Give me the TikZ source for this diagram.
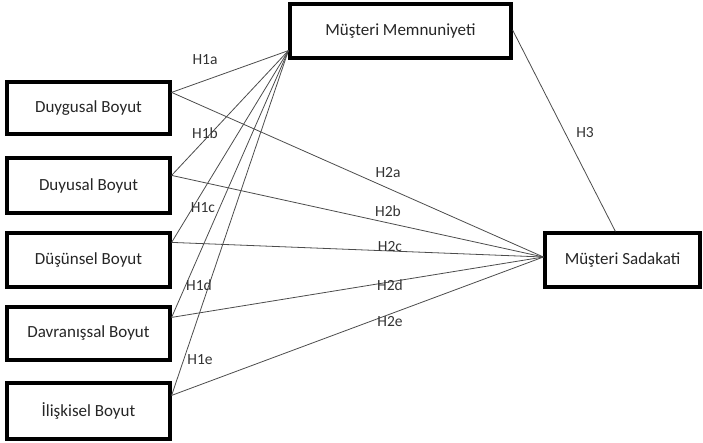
\documentclass[tikz,border=0pt]{standalone}
\usepackage{fontspec}
\setmainfont{Carlito}
\usetikzlibrary{calc}
\begin{document}
\begin{tikzpicture}[x=1pt,y=-1pt,
  box/.style={draw=black,line width=3.2pt,fill=white,rectangle,inner sep=0pt,font=\fontsize{17}{19}\selectfont,text=black!85},
  conn/.style={draw=black!70,line width=0.8pt},
  lbl/.style={font=\fontsize{15.5}{17}\selectfont,text=black!80,inner sep=0pt}]
\useasboundingbox (0,0) rectangle (703,442);
\node[box,minimum width=163pt,minimum height=52pt] (dg) at (88.5,108) {Duygusal Boyut};
\node[box,minimum width=163pt,minimum height=55pt] (dy) at (88.5,185.5) {Duyusal Boyut};
\node[box,minimum width=163pt,minimum height=54pt] (ds) at (88.5,260) {Düşünsel Boyut};
\node[box,minimum width=163pt,minimum height=53pt] (dv) at (88.5,333.5) {Davranışsal Boyut};
\node[box,minimum width=163pt,minimum height=56pt] (il) at (88.5,411) {İlişkisel Boyut};
\node[box,minimum width=221pt,minimum height=54pt] (mm) at (400.5,31) {Müşteri Memnuniyeti};
\node[box,minimum width=155pt,minimum height=54pt] (ms) at (622.5,260) {Müşteri Sadakati};
\coordinate (mmin) at ($(mm.south west)+(0,-9)$);
\coordinate (msin) at ($(ms.west)+(0,-3)$);
\coordinate (dgo) at ($(dg.north east)+(0,12)$);
\coordinate (dyo) at ($(dy.north east)+(0,19)$);
\coordinate (dso) at ($(ds.north east)+(0,11)$);
\coordinate (dvo) at ($(dv.north east)+(0,12)$);
\coordinate (ilo) at ($(il.north east)+(0,14)$);
\foreach \s in {dgo,dyo,dso,dvo,ilo}{
  \draw[conn] (\s) -- (mmin);
  \draw[conn] (\s) -- (msin);
}
\draw[conn] ($(mm.east)+(0,-1)$) -- ($(ms.north west)+(72,0)$);
\node[lbl] (h1a) at (205,60) {H1a};
\node[lbl] (h1b) at (205,133) {H1b};
\node[lbl] (h1c) at (203,208) {H1c};
\node[lbl] (h1d) at (199,285) {H1d};
\node[lbl] (h1e) at (200,360) {H1e};
\node[lbl] (h2a) at (388,173) {H2a};
\node[lbl] (h2b) at (388,211) {H2b};
\node[lbl] (h2c) at (390,247) {H2c};
\node[lbl] (h2d) at (390,285) {H2d};
\node[lbl] (h2e) at (390,322) {H2e};
\node[lbl] (h3) at (585,133) {H3};
\end{tikzpicture}
\end{document}
